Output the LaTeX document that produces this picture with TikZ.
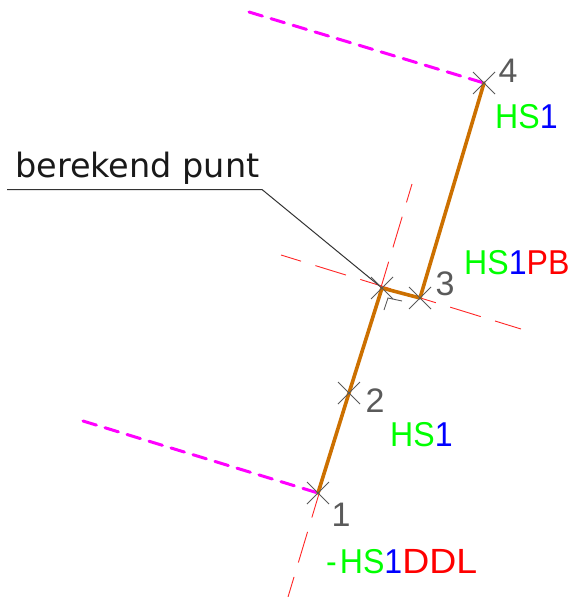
\documentclass[tikz,border=0pt]{standalone}
\usepackage{fontspec}
\setmainfont{Liberation Sans}
\newfontfamily\hsfont[FakeStretch=0.93]{Liberation Sans}
\newfontfamily\calcfont{DejaVu Sans}
\definecolor{hsgreen}{RGB}{0,255,0}
\definecolor{hsblue}{RGB}{0,0,255}
\definecolor{hsred}{RGB}{255,0,0}
\definecolor{numgrey}{RGB}{90,90,90}
\definecolor{wall}{RGB}{204,112,0}
\definecolor{pinkline}{RGB}{255,0,255}
\newcommand{\gr}[1]{\textcolor{hsgreen}{#1}}
\newcommand{\bl}[1]{\textcolor{hsblue}{#1}}
\newcommand{\rd}[1]{\textcolor{hsred}{#1}}
\begin{document}
\begin{tikzpicture}[x=1pt,y=-1pt,
  wallline/.style={draw=wall,line width=3.6pt,line cap=round,line join=round},
  pinkdash/.style={draw=pinkline,line width=3pt,line cap=round,dash pattern=on 14pt off 9pt},
  guide/.style={draw=red!85!white,line width=0.9pt,dash pattern=on 32pt off 15pt,dash phase=11pt},
  leader/.style={draw=black!80,line width=1pt},
  crossmark/.style={draw=black!65,line width=0.9pt},
  numlabel/.style={font=\fontsize{34}{34}\selectfont,text=numgrey,inner sep=0pt},
  hslabel/.style={font=\hsfont\fontsize{34.5}{34.5}\selectfont,inner sep=0pt},
  calclabel/.style={font=\calcfont\fontsize{33.5}{33.5}\selectfont,text=black!90,inner sep=0pt}]
\useasboundingbox (0,0) rectangle (574,597);
\coordinate (p1) at (318,493);
\coordinate (p2) at (349,393);
\coordinate (pc) at (382,288);
\coordinate (p3) at (420,298);
\coordinate (p4) at (484,83);
\coordinate (pinkA) at (249,12);
\coordinate (pinkB) at (83,421);
\coordinate (guideA) at (288,597);
\coordinate (guideB) at (412,184);
\coordinate (guideC) at (281,255);
\coordinate (guideD) at (521,329);
\coordinate (leadA) at (7,189.5);
\coordinate (leadB) at (262,189.5);
\coordinate (angA) at (388,298);
\coordinate (angB) at (402,301);
\coordinate (angC) at (384,310);
% guides
\draw[guide] (guideA) -- (guideB);
\draw[guide] (guideC) -- (guideD);
% pink
\draw[pinkdash] (pinkA) -- (p4);
\draw[pinkdash] (pinkB) -- (p1);
% walls
\draw[wallline] (p1) -- (p2) -- (pc) -- (p3) -- (p4);
% leader
\draw[leader] (leadA) -- (leadB) -- (pc);
\draw[crossmark] (angB) -- (angA) -- (angC);
% crosses
\foreach \p in {p1,p2,pc,p3,p4}{
  \draw[crossmark] ([shift={(-11,-11)}]\p) -- ([shift={(11,11)}]\p);
  \draw[crossmark] ([shift={(-11,11)}]\p) -- ([shift={(11,-11)}]\p);
}
% labels
\node[numlabel] (n1) at (341,515) {1};
\node[numlabel] (n2) at (375,401) {2};
\node[numlabel] (n3) at (445,284) {3};
\node[numlabel] (n4) at (508,71) {4};
\node[hslabel,anchor=base west] (t4) at (495,128) {\gr{HS}\bl{1}};
\node[hslabel,anchor=base west] (t3) at (464,274) {\gr{HS}\bl{1}\rd{PB}};
\node[hslabel,anchor=base west] (t2) at (390,446) {\gr{HS}\bl{1}};
\node[hslabel,anchor=base west] (t1) at (326,573) {\gr{-\kern3pt HS}\bl{1}\rd{\fontsize{35}{35}\selectfont\addfontfeature{FakeStretch=1.07}DDL}};
\node[calclabel,anchor=base west] (calc) at (15,177) {berekend punt};
\end{tikzpicture}
\end{document}
